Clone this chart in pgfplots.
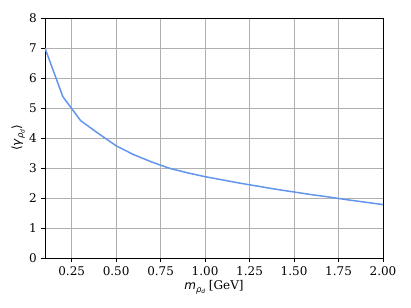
\documentclass[border=0pt]{standalone}
\usepackage{fontspec}
\setmainfont{DejaVu Serif}
\newfontfamily\dvs{DejaVu Sans}
\usepackage{pgfplots}
\pgfplotsset{compat=1.18}
\definecolor{curve}{HTML}{6495ED}
\definecolor{gridc}{HTML}{B0B0B0}
\newcommand{\mi}[1]{{\dvs\itshape #1}}
\begin{document}
\fontsize{12}{14}\selectfont
\begin{tikzpicture}
\begin{axis}[
  scale only axis, width=338pt, height=240pt,
  xmin=0.1, xmax=2.0, ymin=0, ymax=8,
  xtick={0.25,0.5,0.75,1.0,1.25,1.5,1.75,2.0},
  ytick={0,1,2,3,4,5,6,7,8},
  xticklabel style={/pgf/number format/.cd, fixed, fixed zerofill, precision=2},
  /pgf/number format/assume math mode=true,
  tick label style={font=\fontsize{12}{14}\selectfont},
  grid=major,
  major grid style={gridc, line width=0.8pt},
  axis line style={black, line width=0.8pt},
  tick style={black, line width=0.8pt},
  tick align=outside, major tick length=4pt,
  xtick pos=lower, ytick pos=left,
  xlabel={\mi{m}\raisebox{-2.5pt}{\fontsize{8.4}{9}\selectfont\mi{ρ}\raisebox{-1.5pt}{\fontsize{5.9}{6}\selectfont\mi{d}}} [GeV]},
  ylabel={{\dvs ⟨}\mi{γ}\raisebox{-2.5pt}{\fontsize{8.4}{9}\selectfont\mi{ρ}\raisebox{-1.5pt}{\fontsize{5.9}{6}\selectfont\mi{d}}}{\dvs ⟩}},
  label style={font=\fontsize{12}{14}\selectfont},
  xlabel style={yshift=3pt},
  ylabel style={yshift=-4pt},
]
\addplot[curve, line width=1.5pt] coordinates {
(0.1,7.00) (0.2,5.38) (0.3,4.58) (0.4,4.15) (0.5,3.74) (0.6,3.44)
(0.7,3.20) (0.8,2.99) (0.9,2.84) (1.0,2.71) (1.1,2.60) (1.2,2.49)
(1.3,2.39) (1.4,2.29) (1.5,2.20) (1.6,2.11) (1.7,2.03) (1.8,1.94)
(1.9,1.86) (2.0,1.78)
};
\end{axis}
\path[use as bounding box] ([xshift=-45pt,yshift=-50pt]current axis.south west) rectangle ([xshift=28pt,yshift=18pt]current axis.north east);
\end{tikzpicture}
\end{document}
